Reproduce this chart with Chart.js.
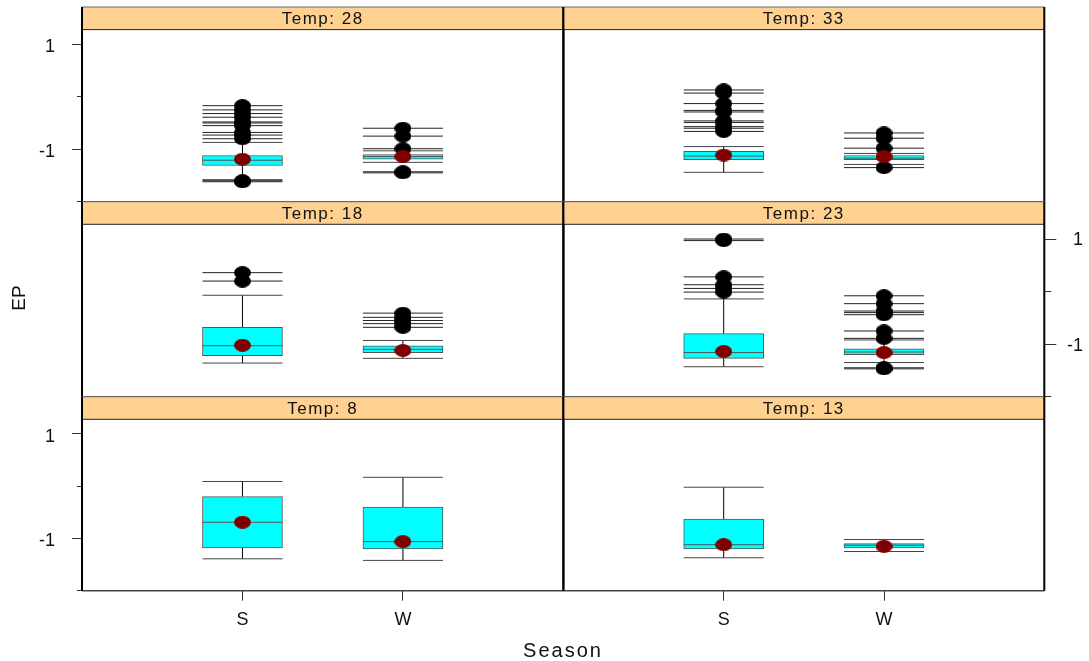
<!DOCTYPE html>
<html>
<head>
<meta charset="utf-8">
<script src="https://cdn.jsdelivr.net/npm/chart.js@4.4.1/dist/chart.umd.min.js"></script>
<style>
html,body{margin:0;padding:0;background:#fff;width:1089px;height:661px;overflow:hidden;font-family:"Liberation Sans",Arial,sans-serif}
#wrap{position:relative;width:1089px;height:661px}
#wrap canvas{position:absolute;left:0;top:0}
.strip{position:absolute;text-align:center;font-size:17px;letter-spacing:1.5px;color:#111;z-index:2;white-space:nowrap}
.lab{position:absolute;color:#111;z-index:2;white-space:nowrap}
</style>
</head>
<body>
<div id="wrap"></div>
<script>
// ── data ──
const seasons=['S','W'];
const temps=['28','33','18','23','8','13'];   // panels row by row, top row first, left then right
const yMajor=[1,-1];
const yMinor=[0,-2];
// per panel: [S, W]
const whiskerLo=[[-1.58,-1.25],[-1.44,-1.29],[-1.36,-1.27],[-1.43,-1.35],[-1.39,-1.42],[-1.37,-1.25]];
const boxQ1    =[[-1.31,-1.19],[-1.20,-1.20],[-1.22,-1.16],[-1.27,-1.20],[-1.18,-1.20],[-1.20,-1.18]];
const medians  =[[-1.21,-1.14],[-1.13,-1.17],[-1.03,-1.10],[-1.16,-1.15],[-0.69,-1.06],[-1.12,-1.13]];
const boxQ3    =[[-1.12,-1.10],[-1.04,-1.12],[-0.68,-1.03],[-0.80,-1.09],[-0.20,-0.40],[-0.63,-1.10]];
const whiskerHi=[[-0.87,-1.03],[-0.95,-1.08],[-0.07,-0.93],[-0.14,-0.92],[0.09,0.17],[-0.02,-1.02]];
const means    =[[-1.19,-1.14],[-1.11,-1.14],[-1.02,-1.12],[-1.14,-1.16],[-0.69,-1.06],[-1.12,-1.15]];
const outliersS=[
  [-0.17,-0.25,-0.32,-0.39,-0.48,-0.50,-0.55,-0.68,-0.73,-0.80,-1.60,-1.62],
  [0.13,0.07,-0.13,-0.26,-0.29,-0.46,-0.49,-0.57,-0.60,-0.66],
  [0.36,0.20],
  [1.00,0.97,0.28,0.13,0.06,-0.01],
  [],[]
];
const outliersW=[
  [-0.60,-0.75,-0.99,-1.43,-1.45],
  [-0.69,-0.79,-0.98,-1.35],
  [-0.41,-0.49,-0.55,-0.61,-0.68],
  [-0.08,-0.23,-0.37,-0.40,-0.44,-0.75,-0.89,-1.45,-1.47],
  [],[]
];

// ── layout ──
const W=1089,H=661;
const COL_L=[82,563.4],COL_R=[563.4,1044.3];
const ROW_T=[7,201.7,396.7],ROW_B=[201.7,396.7,590.7],STRIP_H=22.6;
const LAX_W=45,RAX_W=38.7,XAX_H=45;
const STRIP_BG='#FED190';
const FONT='"Liberation Sans", Arial, sans-serif';

function ellipse(w,h,color){
  const c=document.createElement('canvas');c.width=w;c.height=h;
  const g=c.getContext('2d');g.fillStyle=color;g.beginPath();
  g.ellipse(w/2,h/2,w/2,h/2,0,0,Math.PI*2);g.fill();return c;
}
const blackDot=ellipse(17,13,'#000');
const redDot=ellipse(17,13,'#7f0000');

const panelPlugin={id:'panel',
  beforeDraw(chart){
    const {ctx,chartArea:a}=chart;
    ctx.save();ctx.fillStyle=STRIP_BG;
    ctx.fillRect(a.left,a.top-STRIP_H,a.right-a.left,STRIP_H);
    ctx.restore();
  },
  afterDraw(chart){
    const {ctx,chartArea:a}=chart,t=a.top-STRIP_H;
    ctx.save();
    ctx.lineWidth=1;ctx.strokeStyle='#666';
    ctx.beginPath();ctx.moveTo(a.left,t);ctx.lineTo(a.right,t);ctx.stroke();
    ctx.strokeStyle='#222';
    ctx.beginPath();ctx.moveTo(a.left,a.top);ctx.lineTo(a.right,a.top);ctx.stroke();
    ctx.lineWidth=1.5;ctx.strokeStyle='#444';
    ctx.beginPath();ctx.moveTo(a.left,a.bottom);ctx.lineTo(a.right,a.bottom);ctx.stroke();
    ctx.lineWidth=2;ctx.strokeStyle='#000';
    ctx.beginPath();ctx.moveTo(a.left,t);ctx.lineTo(a.left,a.bottom);
    ctx.moveTo(a.right,t);ctx.lineTo(a.right,a.bottom);ctx.stroke();
    ctx.restore();
  }
};

function panelDatasets(p){
  const xs=[1,2];
  const whisk=[];
  xs.forEach((x,i)=>{
    whisk.push({x,y:whiskerLo[p][i]},{x,y:boxQ1[p][i]},{x,y:null},
               {x,y:boxQ3[p][i]},{x,y:whiskerHi[p][i]},{x,y:null});
  });
  const outl=[];
  outliersS[p].forEach(v=>outl.push({x:1,y:v}));
  outliersW[p].forEach(v=>outl.push({x:2,y:v}));
  return [
    {type:'line',data:whisk,borderColor:'#000',borderWidth:1,pointRadius:0,spanGaps:false,order:6},
    {type:'bar',data:xs.map((x,i)=>({x,y:[boxQ1[p][i],boxQ3[p][i]]})),
     backgroundColor:'#00FFFF',borderColor:'#555',borderWidth:1,borderSkipped:false,barThickness:80,order:5},
    {type:'scatter',data:xs.map((x,i)=>({x,y:medians[p][i]})),pointStyle:'line',pointRadius:40,
     borderColor:'#555',borderWidth:1,order:4},
    {type:'scatter',data:xs.flatMap((x,i)=>[{x,y:whiskerLo[p][i]},{x,y:whiskerHi[p][i]}]),
     pointStyle:'line',pointRadius:40,borderColor:'#444',borderWidth:1,order:3},
    {type:'scatter',data:outl,pointStyle:'line',pointRadius:40,borderColor:'#222',borderWidth:1,order:2},
    {type:'scatter',data:outl,pointStyle:blackDot,pointRadius:8,order:1},
    {type:'scatter',data:xs.map((x,i)=>({x,y:means[p][i]})),pointStyle:redDot,pointRadius:8,order:0}
  ];
}

const wrap=document.getElementById('wrap');
temps.forEach((t,p)=>{
  const r=Math.floor(p/2),c=p%2;
  const leftAx=c===0&&r!==1,rightAx=c===1&&r===1,bottom=r===2,yAx=leftAx||rightAx;
  const cv=document.createElement('canvas');cv.width=W;cv.height=H;wrap.appendChild(cv);
  const side=rightAx?'right':'left';
  new Chart(cv,{
    type:'scatter',
    data:{datasets:panelDatasets(p)},
    options:{
      responsive:false,animation:false,events:[],
      layout:{autoPadding:false,padding:{
        left:COL_L[c]-(leftAx?LAX_W:0),
        right:W-COL_R[c]-(rightAx?RAX_W:0),
        top:ROW_T[r]+STRIP_H,
        bottom:H-ROW_B[r]-(bottom?XAX_H:0)}},
      plugins:{legend:{display:false},tooltip:{enabled:false}},
      scales:{
        x:{type:'linear',min:0,max:3,offset:false,display:bottom,position:'bottom',
          afterBuildTicks:s=>{s.ticks=seasons.map((_,i)=>({value:i+1}));},
          afterFit:s=>{s.height=bottom?XAX_H:0;},
          ticks:{font:{size:18,family:FONT},color:'#111',padding:9,autoSkip:false,maxRotation:0,
                 callback:v=>seasons[v-1]},
          grid:{drawOnChartArea:false,offset:false,tickLength:10,color:'#333'},
          border:{display:false}},
        y:{type:'linear',min:-2,max:1.28,display:yAx,position:side,weight:1,
          afterBuildTicks:s=>{s.ticks=yMajor.map(v=>({value:v}));},
          afterFit:s=>{s.width=yAx?(rightAx?RAX_W:LAX_W):0;},
          ticks:{font:{size:18,family:FONT},color:'#111',padding:rightAx?0:17,
                 crossAlign:rightAx?'far':'near',labelOffset:rightAx?1.5:3,callback:v=>String(v)},
          grid:{drawOnChartArea:false,tickLength:rightAx?12:10,color:'#333'},
          border:{display:false}},
        yMinor:{type:'linear',min:-2,max:1.28,display:yAx,position:side,weight:0,
          afterBuildTicks:s=>{s.ticks=yMinor.map(v=>({value:v}));},
          afterFit:s=>{s.width=0;},
          ticks:{display:false},
          grid:{drawOnChartArea:false,tickLength:rightAx?7:5,color:'#333'},
          border:{display:false}}
      }
    },
    plugins:[panelPlugin]
  });
  const st=document.createElement('div');
  st.className='strip';st.textContent='Temp: '+t;
  st.style.left=COL_L[c]+'px';st.style.top=ROW_T[r]+'px';
  st.style.width=(COL_R[c]-COL_L[c])+'px';st.style.height=STRIP_H+'px';st.style.lineHeight=(STRIP_H+1)+'px';
  wrap.appendChild(st);
});

const xt=document.createElement('div');xt.className='lab';xt.textContent='Season';
xt.style.cssText+='left:463px;width:200px;text-align:center;top:639px;font-size:20px;letter-spacing:2px;';
wrap.appendChild(xt);
const yt=document.createElement('div');yt.className='lab';yt.textContent='EP';
yt.style.cssText+='left:-31px;width:100px;text-align:center;top:287px;font-size:19px;transform:rotate(-90deg);';
wrap.appendChild(yt);
</script>
</body>
</html>
